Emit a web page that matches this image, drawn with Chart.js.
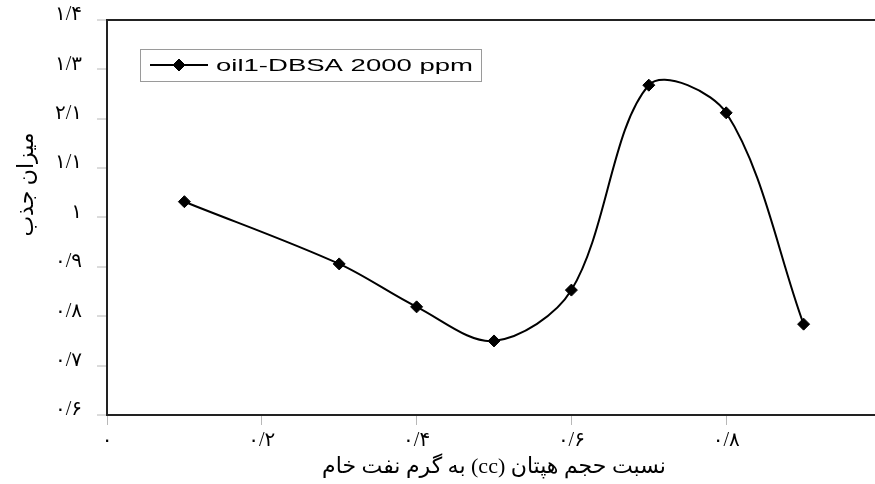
<!DOCTYPE html>
<html>
<head>
<meta charset="utf-8">
<script src="https://cdn.jsdelivr.net/npm/chart.js@4.4.0/dist/chart.umd.min.js"></script>
<style>
  html, body { margin: 0; padding: 0; background: #fff; overflow: hidden; }
  #wrap { position: relative; width: 888px; height: 484px; }
</style>
</head>
<body>
<div id="wrap"><canvas id="chart" dir="rtl"></canvas></div>
<script>
const heptaneRatio = [0.1, 0.3, 0.4, 0.5, 0.6, 0.7, 0.8, 0.9];
const adsorption = [1.032, 0.906, 0.819, 0.750, 0.853, 1.268, 1.212, 0.784];
const seriesLabel = "oil1-DBSA 2000 ppm";
const xTickLabels = ["۰", "۰/۲", "۰/۴", "۰/۶", "۰/۸", ""];
const yTickLabels = ["۰/۶", "۰/۷", "۰/۸", "۰/۹", "۱", "۱/۱", "۲/۱", "۱/۳", "۱/۴"];
const xTitle = "نسبت حجم هپتان (cc) به گرم نفت خام";
// trailing no-break spaces push the rotated title up a little, like the original
const yTitle = "میزان جذب" + "\u00a0".repeat(12);

const serif = '"Liberation Serif", "DejaVu Sans", serif';

// legend drawn by hand: boxed, line + diamond symbol like the Excel original
const legendBox = {
  id: "legendBox",
  afterDraw(chart) {
    const { ctx, chartArea } = chart;
    const ds = chart.data.datasets[0];
    const x = chartArea.left + 33, y = chartArea.top + 29, w = 341, h = 32;
    const cy = y + h / 2;
    ctx.save();
    ctx.direction = "ltr";
    ctx.fillStyle = "#fff";
    ctx.fillRect(x, y, w, h);
    ctx.strokeStyle = "#9a9a9a";
    ctx.lineWidth = 1;
    ctx.strokeRect(x + 0.5, y + 0.5, w, h);

    ctx.strokeStyle = "#000";
    ctx.lineWidth = 2;
    ctx.beginPath();
    ctx.moveTo(x + 10, cy);
    ctx.lineTo(x + 68, cy);
    ctx.stroke();
    ctx.fillStyle = "#000";
    ctx.lineWidth = 1;
    Chart.helpers.drawPoint(ctx, { pointStyle: "rectRot", radius: 6, borderWidth: 1 }, x + 39, cy);

    ctx.font = '17px "Liberation Sans", Arial, sans-serif';
    ctx.textAlign = "left";
    ctx.textBaseline = "middle";
    const sx = 257 / ctx.measureText(ds.label).width;
    ctx.translate(x + 76, cy + 1);
    ctx.scale(sx, 1);
    ctx.fillText(ds.label, 0, 0);
    ctx.restore();
  }
};

new Chart(document.getElementById("chart"), {
  type: "line",
  data: {
    datasets: [{
      label: seriesLabel,
      data: heptaneRatio.map((x, i) => ({ x, y: adsorption[i] })),
      borderColor: "#000",
      backgroundColor: "#000",
      borderWidth: 2,
      pointStyle: "rectRot",
      pointRadius: 6,
      pointBorderWidth: 1,
      tension: 0.33,
      fill: false
    }]
  },
  options: {
    responsive: true,
    maintainAspectRatio: false,
    animation: false,
    layout: { padding: { top: 20, right: 0, left: 0, bottom: 0 } },
    plugins: {
      legend: { display: false },
      tooltip: { enabled: false }
    },
    scales: {
      x: {
        type: "linear",
        min: 0,
        max: 1,
        afterFit: s => { s.height = 69; s.paddingLeft = 0; s.paddingRight = 0; },
        ticks: {
          stepSize: 0.2,
          padding: 4,
          color: "#000",
          font: { family: serif, size: 20 },
          maxRotation: 0,
          callback: v => xTickLabels[Math.round(v / 0.2)]
        },
        grid: { drawOnChartArea: false, tickLength: 10, tickColor: "#b8b8b8", tickWidth: 1 },
        border: { display: true, color: "#222", width: 2 },
        title: {
          display: true,
          text: xTitle,
          color: "#000",
          font: { family: serif, size: 22 },
          padding: { top: 0, bottom: 4 }
        }
      },
      y: {
        min: 0.6,
        max: 1.4,
        afterFit: s => { s.width = 107; s.paddingTop = 0; s.paddingBottom = 0; },
        ticks: {
          stepSize: 0.1,
          padding: 15,
          labelOffset: -5,
          color: "#000",
          font: { family: serif, size: 20 },
          callback: v => yTickLabels[Math.round((v - 0.6) / 0.1)]
        },
        grid: {
          color: c => (c.tick && Math.abs(c.tick.value - 1.4) < 1e-6) ? "#222" : "rgba(0,0,0,0)",
          lineWidth: 2,
          tickLength: 10,
          tickColor: "#b8b8b8",
          tickWidth: 1
        },
        border: { display: true, color: "#222", width: 2 },
        title: {
          display: true,
          text: yTitle,
          color: "#000",
          font: { family: serif, size: 22 },
          padding: { top: 14, bottom: 0 }
        }
      }
    }
  },
  plugins: [legendBox]
});
</script>
</body>
</html>
